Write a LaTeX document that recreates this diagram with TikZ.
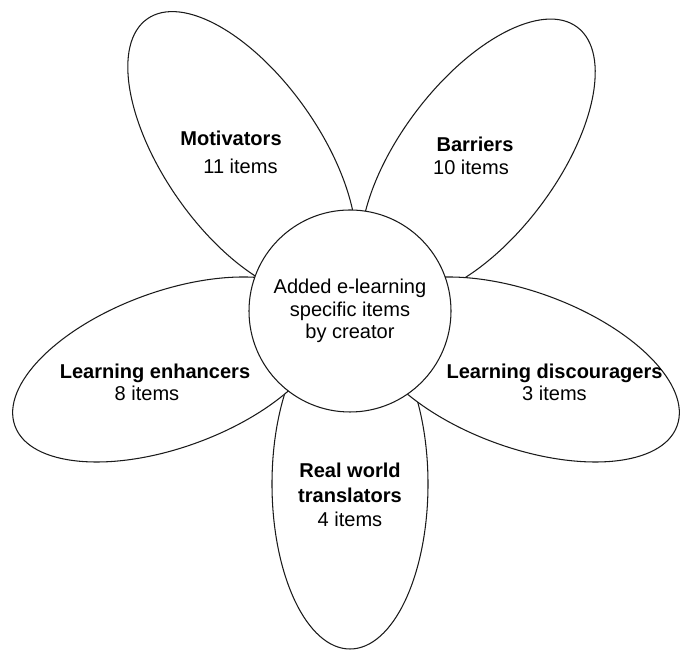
\documentclass[tikz,border=0pt]{standalone}
\usepackage{fontspec}
\setmainfont{Liberation Sans}
\usetikzlibrary{shapes.geometric}
\definecolor{cline}{HTML}{1A1A1A}
\tikzset{
  every picture/.style={font=\fontsize{11.4}{12.8}\selectfont, line width=0.6pt},
  petal/.style={ellipse, draw=cline, fill=white, minimum width=6.6cm, minimum height=3.12cm, inner sep=0pt},
  hub/.style={circle, draw=cline, fill=white, minimum size=4.04cm, inner sep=0pt, align=center},
  lab/.style={align=center, inner sep=1pt},
}

\begin{document}
\begin{tikzpicture}
  \path[use as bounding box, fill=white] (0,0) rectangle (13.68,13);
  % petals, back to front
  \node[petal, rotate=90] (trans) at (7.00,3.32) {};
  \node[petal, rotate=125] (motiv) at (4.84,9.92) {};
  \node[petal, rotate=53] (barr) at (9.56,9.82) {};
  \node[petal, rotate=20] (enh) at (3.40,5.61) {};
  \node[petal, rotate=-20] (disc) at (10.44,5.61) {};
  % centre disc
  \node[hub] (hub) at (7.00,6.78) {Added e-learning\\specific items\\by creator};
  % petal labels
  \node[lab] (motivlab) at (4.62,9.95) {\textbf{Motivators}\\[3pt]\hspace*{0.38cm}11 items};
  \node[lab] (barrlab) at (9.50,9.88) {\textbf{Barriers}\\10 items\hspace*{0.16cm}};
  \node[lab] (enhlab) at (3.10,5.35) {\textbf{Learning enhancers}\\8 items\hspace*{0.32cm}};
  \node[lab] (disclab) at (11.09,5.35) {\textbf{Learning discouragers}\\3 items};
  \node[lab] (translab) at (7.00,3.11) {\textbf{Real world}\\[1.4pt]\textbf{translators}\\[1pt]4 items};
\end{tikzpicture}
\end{document}
